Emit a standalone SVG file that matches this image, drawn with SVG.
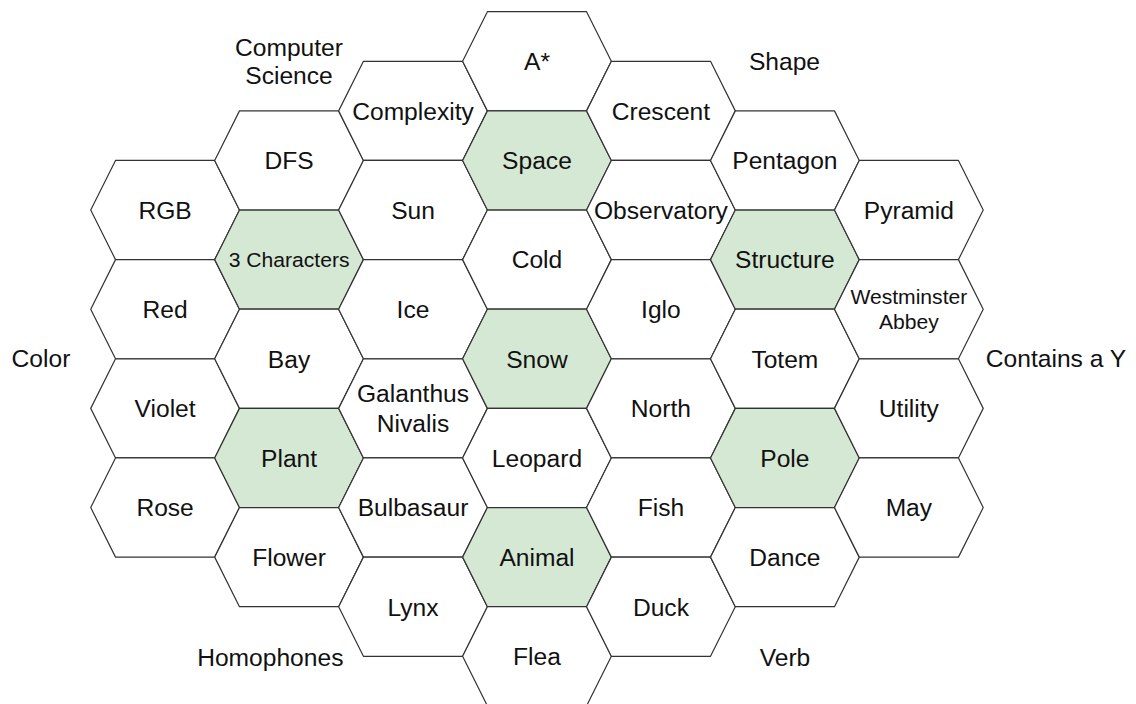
<svg xmlns="http://www.w3.org/2000/svg" xmlns:xlink="http://www.w3.org/1999/xlink" width="1136" height="704" viewBox="0 0 1136 704">
<style>
.h{fill:#ffffff;stroke:#333333;stroke-width:1.2;stroke-linejoin:round}
.g{fill:#d5e8d4;stroke:#333333;stroke-width:1.2;stroke-linejoin:round}
text{font-family:"Liberation Sans",Arial,Helvetica,sans-serif;fill:#111111;text-anchor:middle}
.t{font-size:24.8px}
.s{font-size:21.3px}
.o{font-size:24.6px}
</style>
<defs>
<polygon id="hex" points="-75,0 -50,-50 50,-50 75,0 50,50 -50,50"/>
</defs>
<rect width="1136" height="704" fill="#ffffff"/>
<g id="grid" transform="translate(165.1,61.3) scale(0.99167)">
<g id="n-rgb"><use xlink:href="#hex" class="h" x="0" y="150"/><text class="t" x="0" y="158.9">RGB</text></g>
<g id="n-red"><use xlink:href="#hex" class="h" x="0" y="250"/><text class="t" x="0" y="258.9">Red</text></g>
<g id="n-violet"><use xlink:href="#hex" class="h" x="0" y="350"/><text class="t" x="0" y="358.9">Violet</text></g>
<g id="n-rose"><use xlink:href="#hex" class="h" x="0" y="450"/><text class="t" x="0" y="458.9">Rose</text></g>

<g id="n-dfs"><use xlink:href="#hex" class="h" x="125" y="100"/><text class="t" x="125" y="108.9">DFS</text></g>
<g id="n-3chars"><use xlink:href="#hex" class="g" x="125" y="200"/><text class="s" x="125" y="207.6">3 Characters</text></g>
<g id="n-bay"><use xlink:href="#hex" class="h" x="125" y="300"/><text class="t" x="125" y="308.9">Bay</text></g>
<g id="n-plant"><use xlink:href="#hex" class="g" x="125" y="400"/><text class="t" x="125" y="408.9">Plant</text></g>
<g id="n-flower"><use xlink:href="#hex" class="h" x="125" y="500"/><text class="t" x="125" y="508.9">Flower</text></g>

<g id="n-complexity"><use xlink:href="#hex" class="h" x="250" y="50"/><text class="t" x="250" y="58.9">Complexity</text></g>
<g id="n-sun"><use xlink:href="#hex" class="h" x="250" y="150"/><text class="t" x="250" y="158.9">Sun</text></g>
<g id="n-ice"><use xlink:href="#hex" class="h" x="250" y="250"/><text class="t" x="250" y="258.9">Ice</text></g>
<g id="n-galanthus"><use xlink:href="#hex" class="h" x="250" y="350"/><text class="t" x="250" y="344">Galanthus</text><text class="t" x="250" y="373.8">Nivalis</text></g>
<g id="n-bulbasaur"><use xlink:href="#hex" class="h" x="250" y="450"/><text class="t" x="250" y="458.9">Bulbasaur</text></g>
<g id="n-lynx"><use xlink:href="#hex" class="h" x="250" y="550"/><text class="t" x="250" y="558.9">Lynx</text></g>

<g id="n-astar"><use xlink:href="#hex" class="h" x="375" y="0"/><text class="t" x="375" y="8.9">A*</text></g>
<g id="n-space"><use xlink:href="#hex" class="g" x="375" y="100"/><text class="t" x="375" y="108.9">Space</text></g>
<g id="n-cold"><use xlink:href="#hex" class="h" x="375" y="200"/><text class="t" x="375" y="208.9">Cold</text></g>
<g id="n-snow"><use xlink:href="#hex" class="g" x="375" y="300"/><text class="t" x="375" y="308.9">Snow</text></g>
<g id="n-leopard"><use xlink:href="#hex" class="h" x="375" y="400"/><text class="t" x="375" y="408.9">Leopard</text></g>
<g id="n-animal"><use xlink:href="#hex" class="g" x="375" y="500"/><text class="t" x="375" y="508.9">Animal</text></g>
<g id="n-flea"><use xlink:href="#hex" class="h" x="375" y="600"/><text class="t" x="375" y="608.9">Flea</text></g>

<g id="n-crescent"><use xlink:href="#hex" class="h" x="500" y="50"/><text class="t" x="500" y="58.9">Crescent</text></g>
<g id="n-observatory"><use xlink:href="#hex" class="h" x="500" y="150"/><text class="t" x="500" y="158.9">Observatory</text></g>
<g id="n-iglo"><use xlink:href="#hex" class="h" x="500" y="250"/><text class="t" x="500" y="258.9">Iglo</text></g>
<g id="n-north"><use xlink:href="#hex" class="h" x="500" y="350"/><text class="t" x="500" y="358.9">North</text></g>
<g id="n-fish"><use xlink:href="#hex" class="h" x="500" y="450"/><text class="t" x="500" y="458.9">Fish</text></g>
<g id="n-duck"><use xlink:href="#hex" class="h" x="500" y="550"/><text class="t" x="500" y="558.9">Duck</text></g>

<g id="n-pentagon"><use xlink:href="#hex" class="h" x="625" y="100"/><text class="t" x="625" y="108.9">Pentagon</text></g>
<g id="n-structure"><use xlink:href="#hex" class="g" x="625" y="200"/><text class="t" x="625" y="208.9">Structure</text></g>
<g id="n-totem"><use xlink:href="#hex" class="h" x="625" y="300"/><text class="t" x="625" y="308.9">Totem</text></g>
<g id="n-pole"><use xlink:href="#hex" class="g" x="625" y="400"/><text class="t" x="625" y="408.9">Pole</text></g>
<g id="n-dance"><use xlink:href="#hex" class="h" x="625" y="500"/><text class="t" x="625" y="508.9">Dance</text></g>

<g id="n-pyramid"><use xlink:href="#hex" class="h" x="750" y="150"/><text class="t" x="750" y="158.9">Pyramid</text></g>
<g id="n-westminster"><use xlink:href="#hex" class="h" x="750" y="250"/><text class="s" x="750" y="244.8">Westminster</text><text class="s" x="750" y="270.4">Abbey</text></g>
<g id="n-utility"><use xlink:href="#hex" class="h" x="750" y="350"/><text class="t" x="750" y="358.9">Utility</text></g>
<g id="n-may"><use xlink:href="#hex" class="h" x="750" y="450"/><text class="t" x="750" y="458.9">May</text></g>
</g>
<g id="connectors"></g>
<g id="labels">
<g id="l-cs"><text class="o" x="289" y="55.5">Computer</text><text class="o" x="289" y="84.3">Science</text></g>
<g id="l-shape"><text class="o" x="784.5" y="69.5">Shape</text></g>
<g id="l-color"><text class="o" x="41" y="367">Color</text></g>
<g id="l-containsy"><text class="o" x="1056" y="367">Contains a Y</text></g>
<g id="l-homophones"><text class="o" x="270.3" y="665.5">Homophones</text></g>
<g id="l-verb"><text class="o" x="785" y="665.5">Verb</text></g>
</g>
</svg>
